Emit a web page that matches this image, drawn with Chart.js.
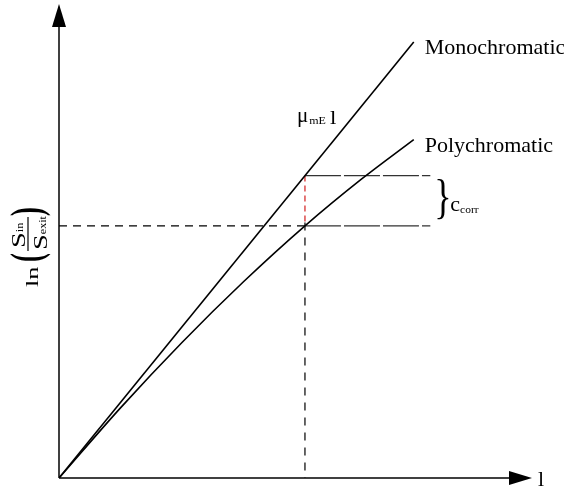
<!DOCTYPE html>
<html>
<head>
<meta charset="utf-8">
<script src="https://cdn.jsdelivr.net/npm/chart.js@4.4.1/dist/chart.umd.min.js"></script>
<style>
  html, body { margin: 0; padding: 0; background: #fff; }
  #wrap { width: 564px; height: 490px; }
</style>
</head>
<body>
<div id="wrap"><canvas id="attenChart" width="564" height="490"></canvas></div>
<script>
// path length l (arbitrary units) and ln(S_in/S_exit)
const monoL = [0, 7.5];
const monoVal = [0, 9.2];
const polyL = [0, 1.3, 2.6, 3.9, 5.2, 6.4, 7.5];
const polyVal = [0, 1.48, 2.86, 4.14, 5.32, 6.31, 7.14];

// reference thickness and the two readings at it
const lRef = 5.2;
const monoRef = 6.38;
const polyRef = 5.32;
const guideEnd = 7.85;

const SERIF = '"Liberation Serif", "DejaVu Serif", serif';

const pts = (xs, ys) => xs.map((x, i) => ({ x: x, y: ys[i] }));

// text drawn with a horizontal stretch, left edge at u
function stretchText(ctx, str, font, u, v, sx) {
  ctx.save();
  ctx.font = font;
  ctx.translate(u, v);
  ctx.scale(sx, 1);
  ctx.fillText(str, 0, 0);
  const w = ctx.measureText(str).width * sx;
  ctx.restore();
  return w;
}

// axes with arrow heads plus all the text annotations
const annotate = {
  id: 'annotate',
  afterDatasetsDraw(chart) {
    const ctx = chart.ctx;
    const xs = chart.scales.x;
    const ys = chart.scales.y;
    const x0 = xs.getPixelForValue(0);
    const y0 = ys.getPixelForValue(0);
    const xTip = xs.getPixelForValue(10);
    const yTip = ys.getPixelForValue(10);

    ctx.save();
    ctx.strokeStyle = '#000';
    ctx.fillStyle = '#000';
    ctx.lineWidth = 1.5;
    ctx.setLineDash([]);

    // x axis
    ctx.beginPath();
    ctx.moveTo(x0, y0);
    ctx.lineTo(xTip - 22, y0);
    ctx.stroke();
    ctx.beginPath();
    ctx.moveTo(xTip, y0);
    ctx.lineTo(xTip - 23, y0 - 7);
    ctx.lineTo(xTip - 23, y0 + 7);
    ctx.closePath();
    ctx.fill();

    // y axis
    ctx.beginPath();
    ctx.moveTo(x0, y0);
    ctx.lineTo(x0, yTip + 22);
    ctx.stroke();
    ctx.beginPath();
    ctx.moveTo(x0, yTip);
    ctx.lineTo(x0 - 7, yTip + 23);
    ctx.lineTo(x0 + 7, yTip + 23);
    ctx.closePath();
    ctx.fill();

    ctx.textBaseline = 'alphabetic';
    ctx.textAlign = 'left';

    // x axis label
    ctx.font = '22px ' + SERIF;
    ctx.fillText('l', xTip + 6, y0 + 8);

    // line names
    const endX = xs.getPixelForValue(monoL[monoL.length - 1]);
    ctx.fillText('Monochromatic', endX + 11, ys.getPixelForValue(monoVal[monoVal.length - 1]) + 12);
    ctx.fillText('Polychromatic', endX + 11, ys.getPixelForValue(polyVal[polyVal.length - 1]) + 12);

    // mu_mE l
    let tx = xs.getPixelForValue(lRef) - 8;
    const ty = ys.getPixelForValue(monoRef) - 54;
    tx += stretchText(ctx, '\u03bc', '20px ' + SERIF, tx, ty, 1.05);
    tx += stretchText(ctx, 'mE', '10px ' + SERIF, tx + 1, ty + 2, 1.2) + 5;
    stretchText(ctx, 'l', '19px ' + SERIF, tx, ty + 2, 1.2);

    // brace and c_corr
    const yTop = ys.getPixelForValue(monoRef);
    const yBot = ys.getPixelForValue(polyRef);
    const gx = xs.getPixelForValue(guideEnd);
    ctx.textBaseline = 'middle';
    stretchText(ctx, '}', '48px ' + SERIF, gx + 4, (yTop + yBot) / 2, 0.75);
    ctx.textBaseline = 'alphabetic';
    const cy = (yTop + yBot) / 2 + 10;
    const cw = stretchText(ctx, 'c', '21px ' + SERIF, gx + 20, cy, 1.05);
    stretchText(ctx, 'corr', '10px ' + SERIF, gx + 20 + cw, cy + 2, 1.15);

    // y axis label: ln(S_in / S_exit), rotated so it reads upwards
    ctx.translate(31, 245);
    ctx.rotate(-Math.PI / 2);
    ctx.textBaseline = 'alphabetic';
    stretchText(ctx, 'ln', '17px ' + SERIF, -42, 7, 1.55);
    ctx.textBaseline = 'middle';
    stretchText(ctx, '(', 'bold 44px ' + SERIF, -17, -1, 0.6);
    stretchText(ctx, ')', 'bold 44px ' + SERIF, 29, -1, 0.6);
    ctx.textBaseline = 'alphabetic';
    // numerator
    let nw = stretchText(ctx, 'S', '19px ' + SERIF, -3, -6, 1.5);
    stretchText(ctx, 'in', '10px ' + SERIF, -3 + nw, -8, 1.2);
    // denominator
    nw = stretchText(ctx, 'S', '19px ' + SERIF, -5, 16, 1.5);
    stretchText(ctx, 'exit', '10px ' + SERIF, -5 + nw, 15, 1.2);
    ctx.lineWidth = 1.2;
    ctx.beginPath();
    ctx.moveTo(-6, -3);
    ctx.lineTo(28, -3);
    ctx.stroke();

    ctx.restore();
  }
};

const ctx = document.getElementById('attenChart').getContext('2d');
new Chart(ctx, {
  type: 'scatter',
  data: {
    datasets: [
      {
        label: 'Monochromatic',
        data: pts(monoL, monoVal),
        showLine: true,
        borderColor: '#000',
        borderWidth: 1.6,
        pointRadius: 0,
      },
      {
        label: 'Polychromatic',
        data: pts(polyL, polyVal),
        showLine: true,
        cubicInterpolationMode: 'monotone',
        borderColor: '#000',
        borderWidth: 1.6,
        pointRadius: 0,
      },
      {
        label: 'poly level',
        data: [{ x: 0, y: polyRef }, { x: lRef, y: polyRef }],
        showLine: true,
        borderColor: '#000',
        borderWidth: 1.2,
        borderDash: [8, 6],
        pointRadius: 0,
      },
      {
        label: 'poly guide',
        data: [{ x: lRef, y: polyRef }, { x: guideEnd, y: polyRef }],
        showLine: true,
        borderColor: '#333',
        borderWidth: 1.4,
        borderDash: [36, 3],
        pointRadius: 0,
      },
      {
        label: 'mono guide',
        data: [{ x: lRef, y: monoRef }, { x: guideEnd, y: monoRef }],
        showLine: true,
        borderColor: '#333',
        borderWidth: 1.4,
        borderDash: [36, 3],
        pointRadius: 0,
      },
      {
        label: 'correction',
        data: [{ x: lRef, y: monoRef }, { x: lRef, y: polyRef }],
        showLine: true,
        borderColor: '#d21e1e',
        borderWidth: 1.2,
        borderDash: [6, 4],
        pointRadius: 0,
      },
      {
        label: 'l drop',
        data: [{ x: lRef, y: polyRef + 0.07 }, { x: lRef, y: 0 }],
        showLine: true,
        borderColor: '#000',
        borderWidth: 1.2,
        borderDash: [8, 7],
        pointRadius: 0,
      },
    ],
  },
  options: {
    responsive: false,
    animation: false,
    layout: { padding: { left: 59, right: 32, top: 4, bottom: 12 } },
    plugins: {
      legend: { display: false },
      tooltip: { enabled: false },
    },
    scales: {
      x: { type: 'linear', min: 0, max: 10, display: false },
      y: { type: 'linear', min: 0, max: 10, display: false },
    },
  },
  plugins: [annotate],
});
</script>
</body>
</html>
